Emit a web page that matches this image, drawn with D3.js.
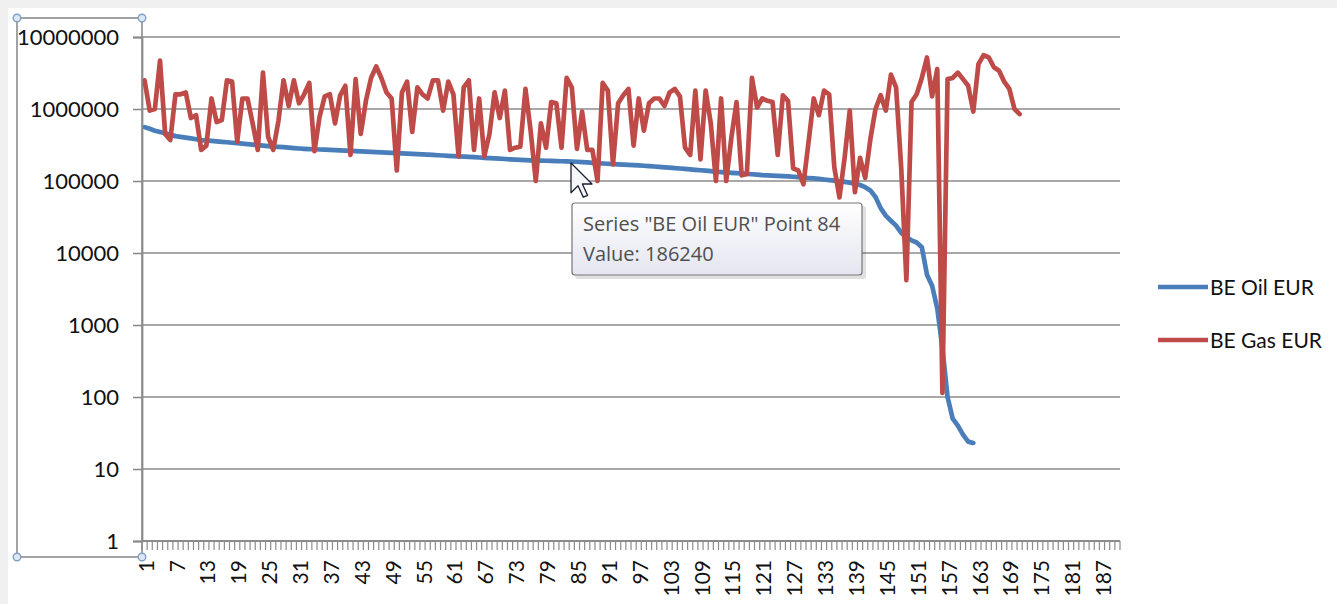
<!DOCTYPE html>
<html><head><meta charset="utf-8">
<script src="https://cdn.jsdelivr.net/npm/d3@7"></script>
<style>
html,body{margin:0;padding:0;background:#f0f0f0;}
svg{display:block;}
</style></head><body>
<svg id="chart" width="1337" height="604"></svg>
<script>
// ---------- data ----------
const categories = d3.range(1, 191);
const xTickLabels = ["1","7","13","19","25","31","37","43","49","55","61","67","73","79","85","91","97","103","109","115","121","127","133","139","145","151","157","163","169","175","181","187"];
const yTickValues = [1, 10, 100, 1000, 10000, 100000, 1000000, 10000000];
const yTickLabels = ["1","10","100","1000","10000","100000","1000000","10000000"];
const seriesNames = ["BE Oil EUR", "BE Gas EUR"];
const oilEUR = [
560000,530000,500000,480000,460000,440000,420000,410000,400000,390000,
380000,370000,365000,360000,355000,350000,345000,340000,335000,330000,
325000,320000,315000,310000,305000,300000,298000,295000,290000,286000,
283000,280000,278000,276000,274000,272000,270000,268000,266000,264000,
262000,260000,258000,256000,254000,252000,250000,248000,246000,244000,
242000,240000,238000,236000,234000,232000,230000,228000,226000,224000,
222000,220000,218000,216000,214000,212000,210000,208000,206000,204000,
202000,200000,198500,197000,195500,194000,193000,192000,191000,190000,
189000,188000,187000,186240,185000,183000,181000,179000,177000,175000,
173500,172000,170500,169000,167500,166000,164500,163000,161000,159000,
157000,155000,153000,151000,149000,147000,145000,143000,141000,139000,
137000,135000,133000,131500,130000,128500,127000,125500,124000,122500,
121000,120000,119000,118000,117000,116000,114500,113000,111500,110000,
108500,107000,105000,103000,101000,99000,97000,95000,92000,88000,
82000,74000,60000,42000,33000,28000,24000,19000,16500,15000,
14000,12000,5000,3500,1700,480,100,50,40,30,
24,23];
const gasEUR = [
2500000,950000,1000000,4700000,450000,370000,1600000,1600000,1700000,750000,
820000,270000,310000,1400000,660000,700000,2500000,2400000,350000,1400000,
1400000,630000,270000,3200000,410000,270000,680000,2500000,1100000,2500000,
1200000,1600000,2300000,260000,780000,1500000,1600000,630000,1550000,2100000,
230000,2600000,450000,1300000,2700000,3900000,2700000,1700000,1400000,140000,
1700000,2400000,480000,2000000,1600000,1400000,2500000,2500000,950000,2400000,
1600000,220000,2000000,2500000,270000,1400000,220000,450000,1700000,750000,
1800000,270000,290000,300000,1900000,500000,100000,630000,290000,1250000,
1200000,290000,2700000,2000000,280000,920000,270000,270000,100000,2300000,
1800000,170000,1200000,1550000,1900000,310000,1400000,500000,1200000,1400000,
1400000,1100000,1700000,1900000,1500000,290000,230000,1800000,200000,1800000,
630000,100000,1400000,100000,400000,1250000,120000,125000,2700000,1050000,
1400000,1300000,1250000,230000,1550000,1300000,150000,140000,90000,350000,
1400000,820000,1800000,1600000,155000,59000,210000,950000,70000,210000,
110000,380000,1000000,1550000,950000,3000000,2000000,150000,4200,1250000,
1600000,2700000,5200000,1500000,3600000,114,2600000,2700000,3200000,2600000,
2100000,920000,4200000,5600000,5200000,3800000,3400000,2400000,1900000,1000000,
850000];
const tooltipLines = ['Series "BE Oil EUR" Point 84', 'Value: 186240'];

// ---------- layout ----------
const svg = d3.select("#chart");
const colors = ["#4a7ebb", "#be4b48"];
const plot = {left: 142, right: 1120, top: 37, bottom: 541};

svg.append("rect").attr("x", 8).attr("y", 8).attr("width", 1329).attr("height", 596).attr("fill", "#ffffff");

const x = d3.scaleBand().domain(categories).range([plot.left, plot.right]).paddingInner(0).paddingOuter(0);
const bw = x.bandwidth();
const y = d3.scaleLog().domain([1, 10000000]).range([plot.bottom, plot.top]);

// gridlines
svg.append("g").selectAll("line").data(yTickValues.slice(1)).join("line")
  .attr("x1", plot.left).attr("x2", plot.right)
  .attr("y1", d => y(d)).attr("y2", d => y(d))
  .attr("stroke", "#8c8c8c").attr("stroke-width", 1.6);

// y axis
const yAxis = d3.axisLeft(y).tickValues(yTickValues)
  .tickFormat((d, i) => yTickLabels[i]).tickSize(9).tickPadding(14);
const gy = svg.append("g").attr("transform", `translate(${plot.left},0)`).call(yAxis);
gy.select(".domain").attr("stroke", "#8c8c8c").attr("stroke-width", 1.8);
gy.selectAll(".tick line").attr("stroke", "#8c8c8c").attr("stroke-width", 1.6);
gy.selectAll(".tick text").attr("font-family", "Lato, 'Liberation Sans', sans-serif")
  .attr("font-size", "22px").attr("fill", "#111");

// x axis
svg.append("line").attr("x1", plot.left).attr("x2", plot.right)
  .attr("y1", plot.bottom).attr("y2", plot.bottom)
  .attr("stroke", "#8c8c8c").attr("stroke-width", 1.8);
const bounds = categories.map(c => x(c)).concat([x(categories[categories.length - 1]) + bw]);
svg.append("g").selectAll("line").data(bounds).join("line")
  .attr("x1", d => d).attr("x2", d => d)
  .attr("y1", plot.bottom).attr("y2", plot.bottom + 9)
  .attr("stroke", "#8c8c8c").attr("stroke-width", 1.2);
svg.append("g").selectAll("text").data(xTickLabels).join("text")
  .attr("transform", d => `translate(${x(+d) + bw / 2 + 1.5},${plot.bottom + 19}) rotate(-90)`)
  .attr("text-anchor", "end").attr("dy", "0.36em")
  .attr("font-family", "Lato, 'Liberation Sans', sans-serif")
  .attr("font-size", "21px").attr("fill", "#111")
  .text(d => d);

// series lines
const line = d3.line().x((d, i) => x(categories[i]) + bw / 2).y(d => y(d)).curve(d3.curveLinear);
[oilEUR, gasEUR].forEach((s, k) => {
  svg.append("path").datum(s).attr("d", line)
    .attr("fill", "none").attr("stroke", colors[k]).attr("stroke-width", 4.7)
    .attr("stroke-linejoin", "round").attr("stroke-linecap", "round");
});

// legend
const lg = svg.append("g");
seriesNames.forEach((n, i) => {
  const ly = 287 + i * 53;
  lg.append("line").attr("x1", 1158).attr("x2", 1208).attr("y1", ly).attr("y2", ly)
    .attr("stroke", colors[i]).attr("stroke-width", 4.7);
  lg.append("text").attr("x", 1210).attr("y", ly).attr("dy", "0.36em")
    .attr("font-family", "Lato, 'Liberation Sans', sans-serif").attr("font-size", "21px")
    .attr("fill", "#111").text(n);
});

// selection frame on axis
svg.append("rect").attr("x", 17).attr("y", 18).attr("width", 125).attr("height", 539)
  .attr("fill", "none").attr("stroke", "#8c8c8c").attr("stroke-width", 1.6);
[[17, 18], [142, 18], [17, 557], [142, 557]].forEach(p => {
  svg.append("circle").attr("cx", p[0]).attr("cy", p[1]).attr("r", 3.8)
    .attr("fill", "#dce7f3").attr("stroke", "#7f9fc4").attr("stroke-width", 1.4);
});

// tooltip
const defs = svg.append("defs");
const gr = defs.append("linearGradient").attr("id", "tipg").attr("x1", 0).attr("x2", 0).attr("y1", 0).attr("y2", 1);
gr.append("stop").attr("offset", "0%").attr("stop-color", "#ffffff");
gr.append("stop").attr("offset", "100%").attr("stop-color", "#e4e5f0");
svg.append("rect").attr("x", 575).attr("y", 206).attr("width", 291).attr("height", 73).attr("rx", 3)
  .attr("fill", "#000").attr("opacity", 0.12);
svg.append("rect").attr("x", 572).attr("y", 203).attr("width", 290).attr("height", 72).attr("rx", 3)
  .attr("fill", "url(#tipg)").attr("stroke", "#767676").attr("stroke-width", 1.2);
tooltipLines.forEach((t, i) => {
  svg.append("text").attr("x", 583).attr("y", 231 + i * 30)
    .attr("font-family", "'Open Sans', 'Noto Sans', sans-serif").attr("font-size", "20px")
    .attr("fill", "#4f4f4f").text(t);
});

// cursor arrow
const s = 1.75, cx0 = 571, cy0 = 163;
const pts = [[0,0],[0,17],[4,13],[7,19.5],[9.5,18.5],[6.5,12],[12,12]];
svg.append("path")
  .attr("d", "M" + pts.map(p => [cx0 + p[0] * s, cy0 + p[1] * s].join(",")).join("L") + "Z")
  .attr("fill", "#f4f6f8").attr("stroke", "#1c2030").attr("stroke-width", 1.3).attr("stroke-linejoin", "round");
</script>
</body></html>
